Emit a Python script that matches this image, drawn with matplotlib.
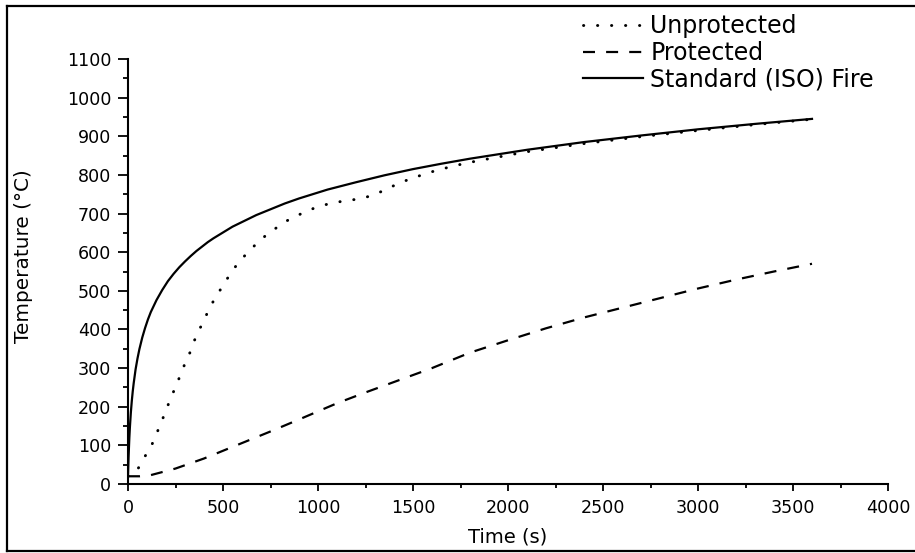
import matplotlib
matplotlib.use("Agg")
import matplotlib.pyplot as plt
from matplotlib.lines import Line2D

# Steel temperature vs time under standard fire exposure
iso_time = [0, 3, 7, 10, 15, 20, 25, 30, 40, 50, 60, 75, 90, 105, 120, 150, 180,
            210, 240, 270, 300, 330, 360, 420, 450, 500, 550, 600, 675, 750,
            825, 900, 1050, 1200, 1350, 1500, 1650, 1800, 2100, 2400, 2700,
            3000, 3300, 3600]
iso_temp = [20, 70, 119, 147, 185, 215, 240, 261, 297, 325, 349, 379, 404, 426,
            445, 476, 502, 525, 544, 561, 576, 590, 603, 626, 636, 651, 666,
            678, 696, 711, 726, 739, 762, 781, 799, 815, 829, 842, 865, 885,
            902, 918, 932, 945]

unprot_time = [0, 30, 60, 90, 125, 150, 175, 200, 225, 250, 275, 300, 325, 350,
               375, 405, 430, 465, 500, 540, 575, 620, 670, 720, 775, 835, 905,
               975, 1054, 1130, 1204, 1274, 1344, 1411, 1481, 1554, 1625, 1698,
               1774, 1847, 1923, 2100, 2400, 2700, 3000, 3300, 3600]
unprot_temp = [20, 25, 45, 72, 101, 130, 159, 191, 222, 251, 281, 312, 339, 372,
               399, 429, 457, 486, 514, 545, 569, 594, 619, 641, 661, 681, 698,
               713, 725, 732, 737, 745, 759, 775, 789, 801, 812, 821, 830, 837,
               844, 860, 881, 899, 915, 930, 944]

prot_time = [0, 60, 120, 250, 400, 500, 600, 750, 900, 1000, 1100, 1250, 1400,
             1600, 1800, 2000, 2200, 2400, 2600, 2800, 3000, 3200, 3400, 3600]
prot_temp = [20, 20, 23, 40, 66, 86, 106, 136, 167, 188, 209, 237, 264, 300,
             340, 372, 403, 431, 456, 481, 506, 529, 550, 570]

fig = plt.figure(figsize=(9.15, 5.53), dpi=100)
ax = fig.add_axes([128 / 915, 1 - 484 / 553, 760 / 915, 425 / 553])

ax.plot(unprot_time, unprot_temp, color="black", lw=2.1,
        linestyle=(0, (0.1, 4.7)), dash_capstyle="round", label="Unprotected")
ax.plot(prot_time, prot_temp, color="black", lw=1.6,
        linestyle=(0, (5.4, 5.0)), label="Protected")
ax.plot(iso_time, iso_temp, color="black", lw=1.6, label="Standard (ISO) Fire")

ax.set_xlim(0, 4000)
ax.set_ylim(0, 1100)
ax.set_xticks(range(0, 4001, 500))
ax.set_xticks(range(250, 4000, 500), minor=True)
ax.set_yticks(range(0, 1101, 100))
ax.set_yticks(range(50, 1100, 100), minor=True)

for side in ["top", "right"]:
    ax.spines[side].set_visible(False)
for side in ["left", "bottom"]:
    ax.spines[side].set_linewidth(1.5)

ax.tick_params(axis="both", which="both", direction="out", width=1.3,
               labelsize=12.6)
ax.tick_params(axis="x", which="major", length=5, pad=6)
ax.tick_params(axis="x", which="minor", length=3)
ax.tick_params(axis="y", which="major", length=7, pad=5)
ax.tick_params(axis="y", which="minor", length=3.5)

fig.text(508 / 915, 1 - 537 / 553, "Time (s)", ha="center", va="center",
         fontsize=14)
fig.text(24 / 915, 1 - 256 / 553, "Temperature (°C)", ha="center",
         va="center", rotation=90, fontsize=14.4)

fig.legend(loc="upper left", bbox_to_anchor=(583 / 915, 1 - 14 / 553),
           frameon=False, fontsize=17, handlelength=2.55, handletextpad=0.3,
           labelspacing=0.12, borderpad=0, borderaxespad=0)

# outer frame: left, top and bottom edges
fx0, fy0, fy1 = 7 / 915, 2 / 553, 1 - 6 / 553
for xs, ys in [([fx0, fx0], [fy0, fy1]), ([fx0, 1.0], [fy1, fy1]),
               ([fx0, 1.0], [fy0, fy0])]:
    fig.add_artist(Line2D(xs, ys, transform=fig.transFigure, color="black",
                          lw=1.6))

fig.savefig("out.png", dpi=100)
